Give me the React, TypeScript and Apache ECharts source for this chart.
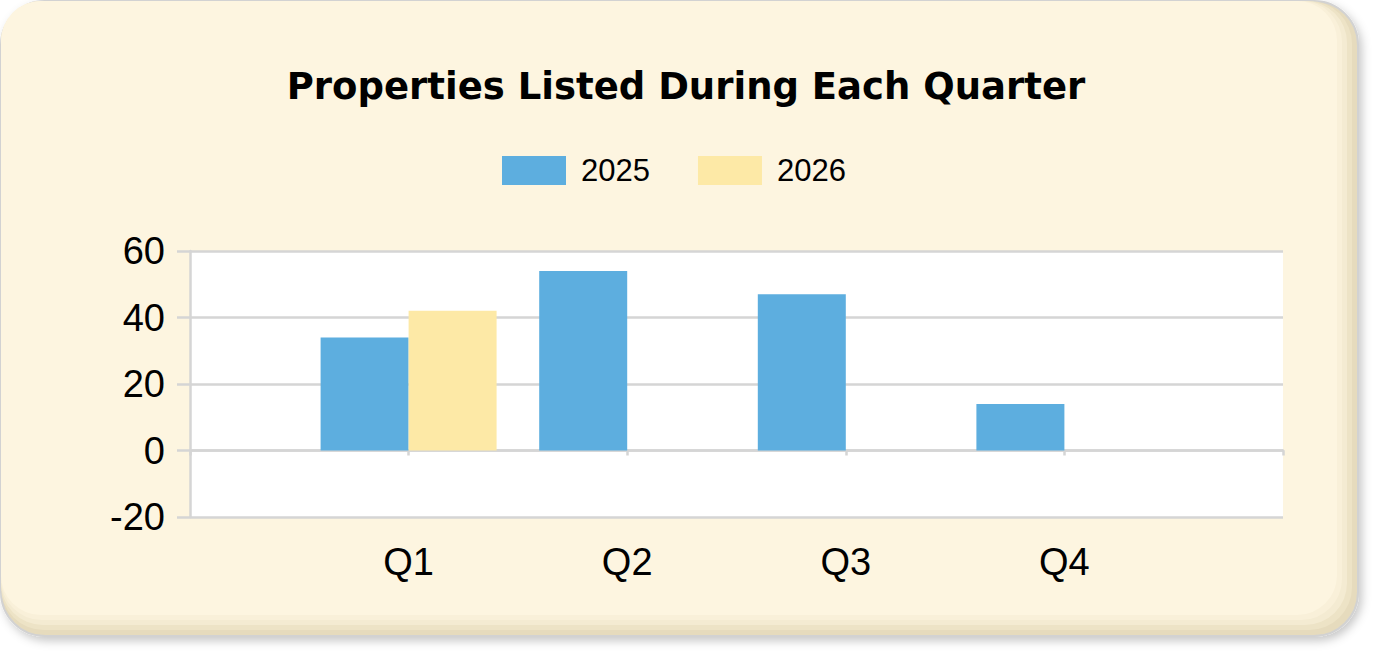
import React, { useEffect, useRef } from "react";
import * as echarts from "echarts";

const categories = ["", "Q1", "Q2", "Q3", "Q4", ""];
const series2025 = [null, 34, 54, 47, 14, null];
const series2026 = [null, 42, null, null, null, null];
const yTicks = { min: -20, max: 60, interval: 20 };

export default function App() {
  const ref = useRef<HTMLDivElement>(null);
  useEffect(() => {
    document.body.style.margin = "0";
    const chart = echarts.init(ref.current!, null, { renderer: "svg" });
    const gridColor = "#d5d5d5";
    const layers = [
      { inset: 0, color: "#e6dbbd" },
      { inset: 6, color: "#ede3c6" },
      { inset: 11, color: "#f4ebd2" },
      { inset: 16, color: "#f9f0d9" },
      { inset: 21, color: "#fdf5e0" },
    ];
    const panel = layers.map((l, i) => ({
      type: "rect",
      z: -10 + i,
      silent: true,
      shape: {
        x: 1,
        y: 1,
        width: 1357 - l.inset,
        height: 635 - l.inset,
        r: 44 - l.inset * 0.2,
      },
      style:
        i === 0
          ? {
              fill: l.color,
              stroke: "#d2d2d2",
              lineWidth: 2,
              shadowBlur: 10,
              shadowOffsetX: 3,
              shadowOffsetY: 4,
              shadowColor: "rgba(0,0,0,0.22)",
            }
          : { fill: l.color },
    }));
    chart.setOption({
      animation: false,
      backgroundColor: "#ffffff",
      graphic: panel,
      title: {
        text: "Properties Listed During Each Quarter",
        left: 681,
        textAlign: "center",
        top: 63,
        textStyle: {
          fontFamily: "DejaVu Sans",
          fontWeight: "bold",
          fontSize: 37,
          color: "#000",
        },
      },
      legend: {
        left: 497,
        top: 150,
        icon: "rect",
        itemWidth: 64,
        itemHeight: 29,
        itemGap: 48,
        textStyle: {
          fontFamily: "Liberation Sans",
          fontSize: 31,
          color: "#000",
          padding: [0, 0, 0, 10],
        },
        data: ["2025", "2026"],
      },
      grid: {
        left: 190,
        right: 90,
        top: 251,
        bottom: 134,
        show: true,
        backgroundColor: "#ffffff",
        borderWidth: 0,
      },
      xAxis: {
        type: "category",
        data: categories,
        boundaryGap: false,
        axisLine: { show: true, lineStyle: { color: gridColor, width: 2.5 } },
        axisTick: { show: true, length: 5, lineStyle: { color: gridColor, width: 2.5 } },
        axisLabel: {
          fontFamily: "Liberation Sans",
          fontSize: 38,
          color: "#000",
          margin: 26,
          interval: 0,
        },
        splitLine: { show: false },
      },
      yAxis: {
        type: "value",
        min: yTicks.min,
        max: yTicks.max,
        interval: yTicks.interval,
        axisLine: { show: true, lineStyle: { color: gridColor, width: 2.5 } },
        axisTick: { show: true, length: 13, lineStyle: { color: gridColor, width: 2.5 } },
        axisLabel: {
          fontFamily: "Liberation Sans",
          fontSize: 38,
          color: "#000",
          margin: 25,
        },
        splitLine: { show: true, lineStyle: { color: gridColor, width: 2.5 } },
      },
      series: [
        {
          name: "2025",
          type: "bar",
          data: series2025,
          barWidth: 88,
          barGap: "0%",
          itemStyle: { color: "#5daedf" },
        },
        {
          name: "2026",
          type: "bar",
          data: series2026,
          barWidth: 88,
          barGap: "0%",
          itemStyle: { color: "#fde9a6" },
        },
      ],
    });
    return () => chart.dispose();
  }, []);
  return <div ref={ref} style={{ width: 1373, height: 651 }} />;
}
